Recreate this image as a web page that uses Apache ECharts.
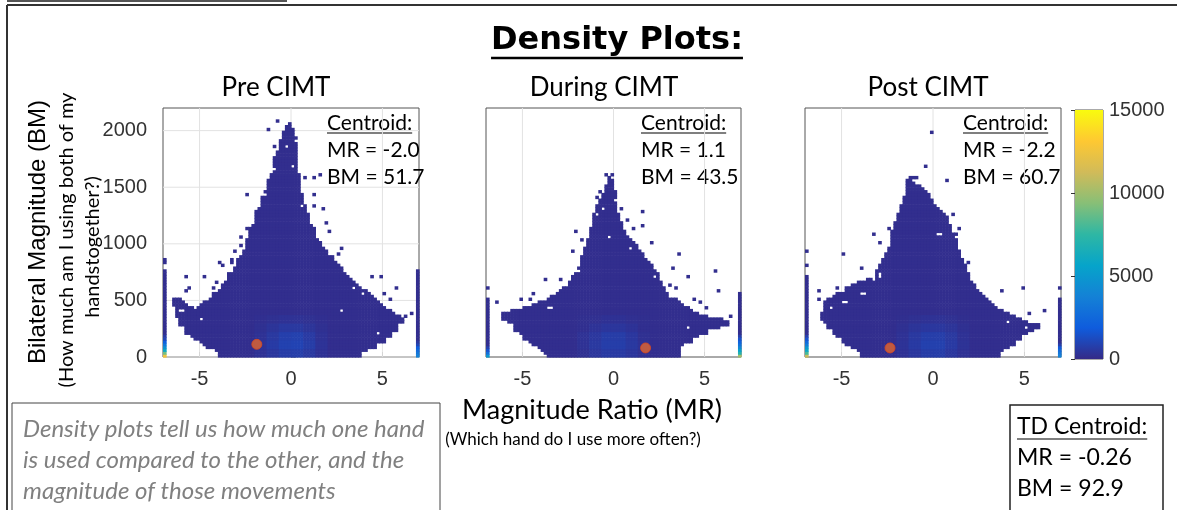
<!DOCTYPE html>
<html><head><meta charset="utf-8">
<script src="https://cdn.jsdelivr.net/npm/echarts@6/dist/echarts.min.js"></script>
<style>html,body{margin:0;padding:0;background:#fff}#c{width:1177px;height:510px}</style>
</head><body><div id="c"></div>
<script>
// ================= DATA =================
const panelTitles = ['Pre CIMT', 'During CIMT', 'Post CIMT'];
const xTickLabels = [-5, 0, 5];
const yTickLabels = [0, 500, 1000, 1500, 2000];
const colorbarRange = [0, 15000];
const centroidMR = ['-2.0', '1.1', '-2.2'];
const centroidBM = ['51.7', '43.5', '60.7'];
const tdCentroid = ['-0.26', '92.9'];
const centroidDots = [[-1.87, 112], [1.76, 80], [-2.35, 80]];
// histogram binning: 84 MR bins over [-7,7], BM bins of 25
const mrRange = [-7, 7];
const mrBins = 84;
const bmBin = 25;
const bmMax = 2200;
const baseCount = 150;

// filled column runs [column, bottomRow, topRow]
const preColumns = [[3,18,20],[4,14,20],[5,11,20],[6,11,19],[7,8,18],[8,8,17],[9,7,17],[10,6,16],[11,6,17],[12,5,18],[13,4,19],[14,3,19],[15,3,20],[16,3,22],[17,2,22],[18,0,23],[19,0,25],[20,0,26],[21,0,28],[22,0,29],[23,0,31],[24,0,34],[25,0,35],[26,0,37],[27,0,41],[28,0,45],[29,0,46],[30,0,51],[31,0,52],[32,0,56],[33,0,58],[34,0,62],[35,0,64],[36,0,70],[37,0,72],[38,0,76],[39,0,79],[40,0,81],[41,0,82],[42,0,80],[43,0,75],[44,0,64],[45,0,57],[46,0,53],[47,0,50],[48,0,46],[49,0,45],[50,0,41],[51,0,40],[52,0,38],[53,0,37],[54,0,35],[55,0,35],[56,0,33],[57,0,32],[58,0,31],[59,0,29],[60,0,28],[61,0,27],[62,0,26],[63,0,25],[64,0,24],[65,2,23],[66,2,23],[67,3,22],[68,3,21],[69,3,20],[70,5,19],[71,5,18],[72,5,17],[73,7,16],[74,7,16],[75,9,15],[76,9,14],[77,12,14],[78,12,13]];
const duringColumns = [[5,13,15],[6,13,15],[7,12,15],[8,12,16],[9,9,16],[10,9,16],[11,8,16],[12,6,17],[13,6,17],[14,5,17],[15,4,18],[16,4,18],[17,3,19],[18,2,19],[19,1,19],[20,0,20],[21,0,21],[22,0,21],[23,0,22],[24,0,23],[25,0,24],[26,0,24],[27,0,26],[28,0,28],[29,0,29],[30,0,31],[31,0,35],[32,0,38],[33,0,41],[34,0,45],[35,0,50],[36,0,53],[37,0,55],[38,0,57],[39,0,60],[40,0,63],[41,0,62],[42,0,58],[43,0,50],[44,0,47],[45,0,44],[46,0,42],[47,0,41],[48,0,40],[49,0,39],[50,0,37],[51,0,36],[52,0,34],[53,0,33],[54,0,32],[55,0,30],[56,0,28],[57,0,26],[58,0,24],[59,0,22],[60,0,20],[61,0,20],[62,0,20],[63,0,19],[64,4,18],[65,5,17],[66,5,17],[67,5,16],[68,7,15],[69,7,15],[70,8,14],[71,8,14],[72,8,14],[73,10,13],[74,10,13],[75,10,13],[76,10,13],[77,11,13],[78,11,12],[79,11,12]];
const postColumns = [[5,13,15],[6,12,19],[7,10,20],[8,10,20],[9,8,21],[10,7,22],[11,7,22],[12,5,22],[13,4,24],[14,4,24],[15,3,25],[16,3,25],[17,2,26],[18,0,26],[19,0,26],[20,0,27],[21,0,27],[22,0,26],[23,0,30],[24,0,32],[25,0,34],[26,0,36],[27,0,38],[28,0,44],[29,0,47],[30,0,50],[31,0,53],[32,0,56],[33,0,62],[34,0,62],[35,0,61],[36,0,60],[37,0,60],[38,0,59],[39,0,58],[40,0,57],[41,0,55],[42,0,53],[43,0,52],[44,0,51],[45,0,50],[46,0,49],[47,0,46],[48,0,43],[49,0,41],[50,0,37],[51,0,34],[52,0,32],[53,0,29],[54,0,26],[55,0,25],[56,0,23],[57,0,22],[58,0,21],[59,0,20],[60,0,19],[61,0,18],[62,0,17],[63,0,16],[64,2,16],[65,3,15],[66,3,15],[67,4,14],[68,4,14],[69,6,13],[70,6,13],[71,8,12],[72,8,12],[73,9,11],[74,9,11],[75,10,11],[76,10,11]];

// saturated edge columns (MR = -7 / +7): top row and bottom-row counts
const preLeftEdge = [30, [12500, 9000, 6000, 4500, 3200, 2000, 1000, 600]];
const preRightEdge = [30, [3800, 3200, 2600, 2000, 1000, 500]];
const duringLeftEdge = [20, [5000, 2800, 1500, 800]];
const duringRightEdge = [22, [10000, 7000, 5500, 4000, 3000, 2200, 1500, 800]];
const postLeftEdge = [28, [11000, 8000, 6000, 5000, 3500, 2500, 1500, 800]];
const postRightEdge = [20, [3800, 3200, 2600, 1800, 800]];

// isolated occupied cells [column, row]
const preSpecks = [[0,33],[0,34],[34,80],[37,83],[36,74],[43,77],[43,73],[46,63],[49,63],[51,64],[44,57],[49,57],[49,53],[52,52],[53,47],[54,44],[57,36],[58,38],[27,57],[27,45],[25,42],[25,39],[23,37],[22,34],[19,32],[18,33],[22,33],[21,29],[7,28],[13,28],[16,24],[17,26],[7,23],[8,24],[4,20],[76,24],[71,28],[68,28],[74,20],[81,15],[79,14],[72,22]];
const duringSpecks = [[0,24],[51,51],[51,46],[54,40],[63,36],[56,29],[61,31],[75,30],[76,23],[66,28],[58,21],[19,27],[24,27],[15,22],[11,20],[28,37],[31,41],[29,44],[39,64],[41,64],[37,58],[36,56],[44,52],[46,48],[48,45],[60,25],[62,24],[68,20],[70,19],[72,17],[3,19],[14,20],[80,14]];
const postSpecks = [[41,79],[39,67],[34,63],[35,63],[36,63],[46,62],[37,59],[48,50],[50,45],[49,43],[53,33],[64,23],[71,24],[73,15],[78,16],[83,24],[22,43],[24,40],[12,36],[18,31],[10,24],[4,23],[4,20],[27,45],[0,32],[0,37]];

// empty cells inside the filled region [column, row]
const preHoles = [[12,13],[58,16],[70,8],[45,53],[49,50],[40,74],[42,67],[33,57],[36,66],[5,16],[6,16],[65,22],[62,24]];
const duringHoles = [[40,42],[42,55],[36,50],[55,28],[47,38],[20,17],[21,17],[30,30],[66,10],[38,52]];
const postHoles = [[24,28],[24,29],[43,43],[44,43],[18,22],[19,22],[12,19],[13,19],[8,17],[72,10],[66,12]];

// brighter core of each histogram (blocks of 4 columns x 3 rows, bottom block first)
const preBlobCol = 30;
const preBlob = [[300,500,700,750,550,300],[350,650,900,950,700,350],[300,550,800,850,600,300],[250,400,550,550,400,250],[200,250,300,300,250,200]];
const duringBlobCol = 30;
const duringBlob = [[250,450,600,600,450,250],[300,550,750,750,550,300],[300,500,700,700,500,250],[200,350,450,450,350,200],[180,220,280,280,220,180]];
const postBlobCol = 30;
const postBlob = [[300,500,700,720,500,300],[350,600,850,850,600,330],[300,550,750,750,550,300],[250,400,500,500,400,250],[180,250,300,300,250,180]];

const parula = ['#352a87','#0f5cdd','#1481d6','#06a4ca','#2eb7a4','#87bf77','#d1bb59','#fec832','#f9fb0e'];

// ================= BUILD =================
const binW = (mrRange[1] - mrRange[0]) / mrBins;
function buildCells(columns, leftEdge, rightEdge, specks, holes, blob, blobCol) {
  const cells = new Map();
  const key = (c, r) => c * 1000 + r;
  columns.forEach(([c, b, t]) => { for (let r = b; r <= t; r++) cells.set(key(c, r), baseCount); });
  [[0, leftEdge], [mrBins - 1, rightEdge]].forEach(([c, e]) => {
    const top = e[0], hot = e[1];
    for (let r = 0; r <= top; r++) cells.set(key(c, r), r < hot.length ? hot[r] : baseCount);
  });
  specks.forEach(([c, r]) => cells.set(key(c, r), baseCount));
  holes.forEach(([c, r]) => cells.delete(key(c, r)));
  blob.forEach((vals, br) => vals.forEach((v, bc) => {
    for (let dr = 0; dr < 3; dr++) for (let dc = 0; dc < 4; dc++) {
      const k = key(blobCol + bc * 4 + dc, br * 3 + dr);
      if (cells.has(k)) cells.set(k, v);
    }
  }));
  const data = [];
  cells.forEach((v, k) => {
    const c = Math.floor(k / 1000), r = k % 1000;
    data.push([mrRange[0] + (c + 0.5) * binW, (r + 0.5) * bmBin, v]);
  });
  return data;
}
const panelData = [
  buildCells(preColumns, preLeftEdge, preRightEdge, preSpecks, preHoles, preBlob, preBlobCol),
  buildCells(duringColumns, duringLeftEdge, duringRightEdge, duringSpecks, duringHoles, duringBlob, duringBlobCol),
  buildCells(postColumns, postLeftEdge, postRightEdge, postSpecks, postHoles, postBlob, postBlobCol)
];

function renderCell(params, api) {
  const x = api.value(0), y = api.value(1);
  const p1 = api.coord([x - binW / 2, y + bmBin / 2]);
  const p2 = api.coord([x + binW / 2, y - bmBin / 2]);
  return { type: 'rect', shape: { x: p1[0], y: p1[1], width: p2[0] - p1[0] + 0.6, height: p2[1] - p1[1] + 0.6 },
           style: { fill: api.visual('color') } };
}
function renderVGrid(params, api) {
  const x = api.value(0);
  const a = api.coord([x, 0]), b = api.coord([x, bmMax]);
  return { type: 'line', shape: { x1: a[0], y1: a[1], x2: b[0], y2: b[1] }, style: { stroke: '#e2e2e2', lineWidth: 1 } };
}
function renderHGrid(params, api) {
  const y = api.value(1);
  const a = api.coord([mrRange[0], y]), b = api.coord([mrRange[1], y]);
  return { type: 'line', shape: { x1: a[0], y1: a[1], x2: b[0], y2: b[1] }, style: { stroke: '#e2e2e2', lineWidth: 1 } };
}
function renderColorbar(params, api) {
  const a = api.coord([0, api.value(1)]), b = api.coord([1, api.value(0)]);
  const stops = parula.slice().reverse().map((c, i, arr) => ({ offset: i / (arr.length - 1), color: c }));
  return { type: 'rect', shape: { x: a[0], y: a[1], width: b[0] - a[0], height: b[1] - a[1] },
           style: { fill: new echarts.graphic.LinearGradient(0, 0, 0, 1, stops) } };
}

const grids = [
  { left: 163, top: 108, width: 256, height: 249 },
  { left: 486, top: 108, width: 255, height: 249 },
  { left: 805, top: 108, width: 256, height: 249 },
  { left: 1075, top: 110, width: 28, height: 249 }
].map(g => Object.assign({ show: true, borderColor: '#555', borderWidth: 1, backgroundColor: 'transparent' }, g));

const plain = v => String(v);
const tickFont = { fontSize: 20, fontFamily: 'Liberation Sans', color: '#333', formatter: plain };
const xAxes = [0, 1, 2].map(i => ({
  gridIndex: i, type: 'value', min: mrRange[0], max: mrRange[1],
  axisLine: { show: false }, splitLine: { show: false },
  axisTick: { inside: true, length: 5, customValues: xTickLabels, lineStyle: { color: '#333' } },
  axisLabel: Object.assign({ customValues: xTickLabels, margin: 12 }, tickFont)
}));
xAxes.push({ gridIndex: 3, type: 'value', min: 0, max: 1, show: false });
const yAxes = [0, 1, 2].map(i => ({
  gridIndex: i, type: 'value', min: 0, max: bmMax,
  axisLine: { show: false }, splitLine: { show: false },
  axisTick: { show: i === 0, inside: true, length: 5, customValues: yTickLabels, lineStyle: { color: '#333' } },
  axisLabel: Object.assign({ show: i === 0, customValues: yTickLabels, margin: 16 }, tickFont)
}));
yAxes.push({ gridIndex: 3, type: 'value', position: 'right', min: colorbarRange[0], max: colorbarRange[1], interval: 5000,
  axisLine: { show: false }, splitLine: { show: false },
  axisTick: { inside: true, length: 4, lineStyle: { color: '#333' } },
  axisLabel: Object.assign({ margin: 6 }, tickFont) });

const series = [];
const densityIdx = [];
for (let i = 0; i < 3; i++) {
  series.push({ type: 'custom', xAxisIndex: i, yAxisIndex: i, silent: true, z: 1, renderItem: renderVGrid,
    data: xTickLabels.map(v => [v, 0]), encode: { x: 0, y: 1 } });
  if (i === 0) series.push({ type: 'custom', xAxisIndex: 0, yAxisIndex: 0, silent: true, z: 1, renderItem: renderHGrid,
    data: yTickLabels.map(v => [mrRange[0], v]), encode: { x: 0, y: 1 } });
  densityIdx.push(series.length);
  series.push({ type: 'custom', xAxisIndex: i, yAxisIndex: i, silent: true, z: 5, progressive: 0,
    renderItem: renderCell, data: panelData[i], encode: { x: 0, y: 1 } });
  series.push({ type: 'scatter', xAxisIndex: i, yAxisIndex: i, silent: true, z: 10, symbolSize: 10,
    itemStyle: { color: '#e3652d', borderColor: '#d9481f', borderWidth: 1 }, data: [centroidDots[i]] });
}
series.push({ type: 'custom', xAxisIndex: 3, yAxisIndex: 3, silent: true, z: 5, renderItem: renderColorbar,
  data: [[colorbarRange[0], colorbarRange[1]]], encode: { x: 0, y: 1 } });

// ================= TEXT / DECORATION =================
const mctx = document.createElement('canvas').getContext('2d');
function tw(text, font) { mctx.font = font; return mctx.measureText(text).width; }
function txt(x, y, text, font, opt) {
  opt = opt || {};
  return { type: 'text', x: x, y: y, rotation: opt.rotation || 0, silent: true,
    style: { text: text, font: font, fill: opt.fill || '#000', align: opt.align || 'left', textAlign: opt.align || 'left',
             verticalAlign: 'middle', textVerticalAlign: 'middle' } };
}
function hline(x1, x2, y, w, c) {
  return { type: 'line', silent: true, shape: { x1: x1, y1: y, x2: x2, y2: y }, style: { stroke: c || '#000', lineWidth: w || 1 } };
}
const g = [];
g.push(hline(7, 287, 1, 2, '#555'));
g.push(hline(7, 1177, 5, 2, '#333'));
g.push({ type: 'line', silent: true, shape: { x1: 7, y1: 5, x2: 7, y2: 510 }, style: { stroke: '#333', lineWidth: 2 } });
const titleFont = 'bold 32px "DejaVu Sans"';
const titleW = tw('Density Plots:', titleFont);
g.push(txt(617, 41, 'Density Plots:', titleFont, { align: 'center' }));
g.push(hline(617 - titleW / 2, 617 + titleW / 2, 58, 2.5));
const subFont = '26px Lato';
[276, 604, 928].forEach((x, i) => g.push(txt(x, 88, panelTitles[i], subFont, { align: 'center' })));
const cenFont = '21px Lato';
[327, 641, 963].forEach((x, i) => {
  g.push(txt(x, 123, 'Centroid:', cenFont));
  g.push(hline(x, x + tw('Centroid:', cenFont), 133, 1.2));
  g.push(txt(x, 150, 'MR = ' + centroidMR[i], cenFont));
  g.push(txt(x, 177, 'BM = ' + centroidBM[i], cenFont));
});
g.push(txt(38, 232, 'Bilateral Magnitude (BM)', '24px "Liberation Sans"', { align: 'center', rotation: Math.PI / 2 }));
g.push(txt(67, 240, '(How much am I using both of my', '20px Lato', { align: 'center', rotation: Math.PI / 2 }));
g.push(txt(93, 247, 'handstogether?)', '20px Lato', { align: 'center', rotation: Math.PI / 2 }));
g.push(txt(592, 410, 'Magnitude Ratio (MR)', '27px Lato', { align: 'center' }));
g.push(txt(573, 440, '(Which hand do I use more often?)', '17px Lato', { align: 'center' }));
g.push({ type: 'rect', silent: true, shape: { x: 12, y: 403, width: 428, height: 130 }, style: { fill: 'none', stroke: '#444', lineWidth: 1 } });
const noteFont = 'italic 24px Lato';
['Density plots tell us how much one hand', 'is used compared to the other, and the', 'magnitude of those movements']
  .forEach((s, i) => g.push(txt(23, 429 + i * 31, s, noteFont, { fill: '#808080' })));
g.push({ type: 'rect', silent: true, shape: { x: 1010, y: 405, width: 153, height: 130 }, style: { fill: 'none', stroke: '#222', lineWidth: 1.5 } });
const tdFont = '23px Lato';
g.push(txt(1017, 427, 'TD Centroid:', tdFont));
g.push(hline(1017, 1017 + tw('TD Centroid:', tdFont), 439, 1.2));
g.push(txt(1017, 458, 'MR = ' + tdCentroid[0], tdFont));
g.push(txt(1017, 489, 'BM = ' + tdCentroid[1], tdFont));

const chart = echarts.init(document.getElementById('c'), null, { renderer: 'canvas' });
chart.setOption({
  animation: false,
  backgroundColor: '#fff',
  grid: grids,
  xAxis: xAxes,
  yAxis: yAxes,
  visualMap: { type: 'continuous', show: false, min: colorbarRange[0], max: colorbarRange[1], dimension: 2,
    seriesIndex: densityIdx, inRange: { color: parula } },
  series: series,
  graphic: { elements: g }
});
</script></body></html>
